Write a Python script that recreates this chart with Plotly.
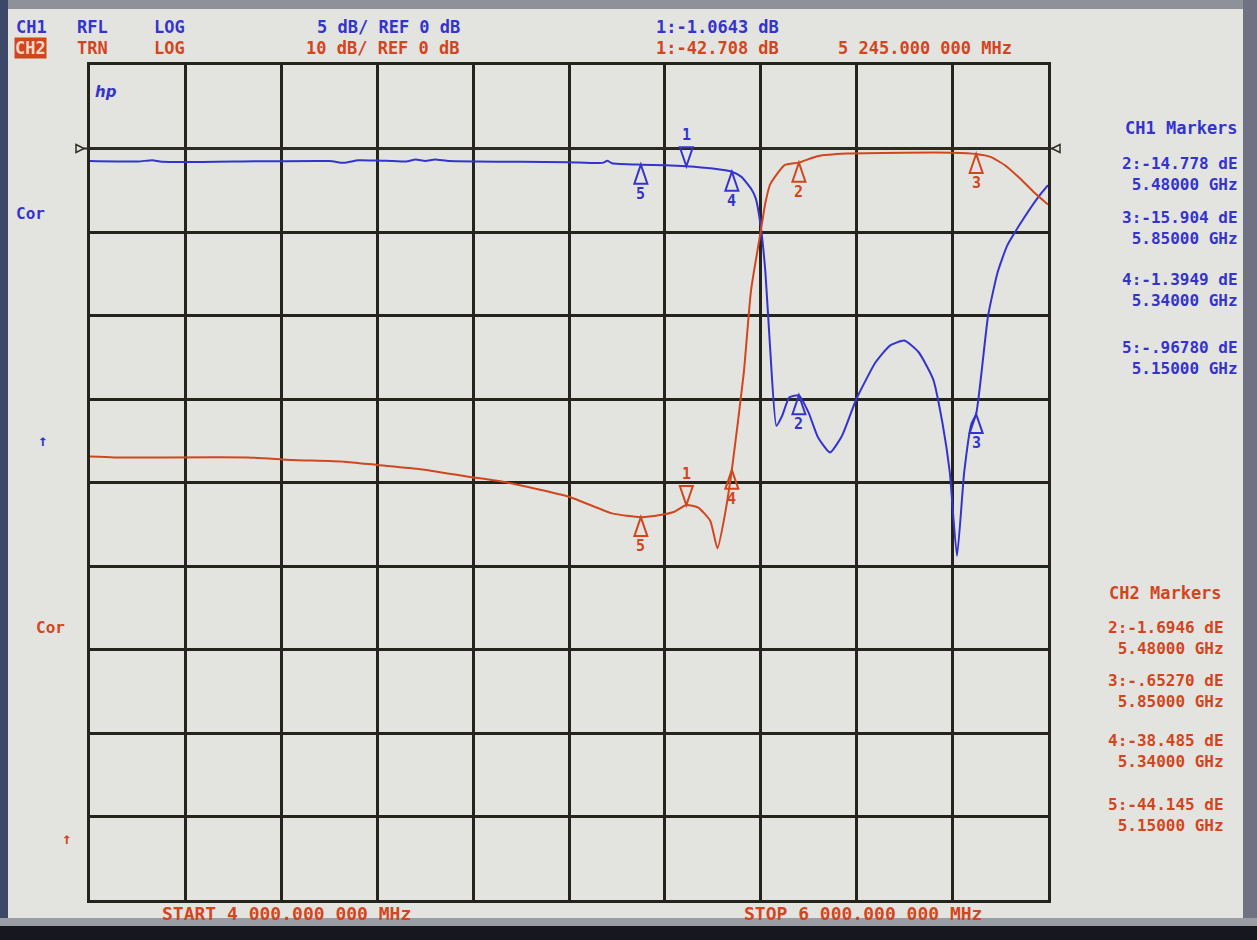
import plotly.graph_objects as go

freq_ch1 = [4.00, 4.10, 4.13, 4.15, 4.30, 4.50, 4.53, 4.56, 4.60, 4.66, 4.68, 4.70, 4.72, 4.75,
            4.90, 5.00, 5.07, 5.08, 5.09, 5.15, 5.20, 5.245, 5.30, 5.34, 5.36, 5.38, 5.39,
            5.40, 5.41, 5.42, 5.433, 5.445, 5.46, 5.48, 5.50, 5.52, 5.545, 5.57, 5.60, 5.64,
            5.67, 5.70, 5.73, 5.76, 5.78, 5.795, 5.81, 5.825, 5.84, 5.85, 5.875, 5.895,
            5.915, 5.94, 5.98, 6.00]
s11_db = [-0.75, -0.78, -0.70, -0.80, -0.78, -0.75, -0.86, -0.70, -0.72, -0.78, -0.66, -0.75, -0.66, -0.75,
          -0.80, -0.82, -0.86, -0.74, -0.88, -0.97, -1.00, -1.06, -1.20, -1.39, -1.70, -2.40, -3.00,
          -4.60, -7.40, -12.0, -16.6, -16.0, -14.9, -14.78, -15.8, -17.3, -18.2, -17.2, -15.0, -12.8,
          -11.8, -11.5, -12.2, -13.8, -16.5, -19.4, -24.4, -19.4, -16.5, -15.9, -10.0, -7.4,
          -5.8, -4.6, -2.9, -2.2]

freq_ch2 = [4.00, 4.05, 4.33, 4.42, 4.53, 4.60, 4.69, 4.79, 4.87, 5.00, 5.09, 5.15, 5.19, 5.22,
            5.245, 5.27, 5.295, 5.31, 5.325, 5.34, 5.365, 5.38, 5.40, 5.41, 5.42, 5.45, 5.48,
            5.52, 5.58, 5.70, 5.80, 5.85, 5.88, 5.91, 5.94, 5.97, 6.00]
s21_db = [-36.9, -37.0, -37.0, -37.3, -37.5, -37.9, -38.4, -39.3, -40.0, -41.7, -43.7, -44.15, -43.9, -43.5,
          -42.7, -43.0, -44.6, -47.9, -44.0, -38.5, -26.8, -17.0, -10.0, -6.5, -4.3, -2.0, -1.69,
          -0.9, -0.6, -0.5, -0.5, -0.65, -1.0, -2.0, -3.5, -5.2, -6.7]

marker_ids = ["1", "2", "3", "4", "5"]
marker_freq_ghz = [5.245, 5.48, 5.85, 5.34, 5.15]
ch1_marker_db = [-1.0643, -14.778, -15.904, -1.3949, -0.96780]
ch2_marker_db = [-42.708, -1.6946, -0.65270, -38.485, -44.145]

start_mhz = 4000.0
stop_mhz = 6000.0
ch1_scale = 5    # dB/div
ch2_scale = 10   # dB/div
ref_db = 0

# ---------------- layout geometry ----------------
W, H = 1257, 940
L, R, T, B = 90, 1048, 65, 900
PW, PH = R - L, B - T

BLUE = "#3434cc"
RED = "#d2461e"
GRID = "#24241c"
SCREEN = "#e3e4e0"
MONO = "DejaVu Sans Mono"


def px(x):
    return (x - L) / PW


def py(y):
    return 1 - (y - T) / PH


def fmt_db(v):
    s = f"{v:#.5g}"
    return s.replace("-0.", "-.")


def fmt_mhz(mhz):
    whole, frac = f"{mhz:.6f}".split(".")
    if len(whole) > 3:
        whole = whole[:-3] + " " + whole[-3:]
    return f"{whole}.{frac[:3]} {frac[3:]} MHz"


fig = go.Figure()

fig.add_trace(go.Scatter(x=freq_ch1, y=s11_db, mode="lines", yaxis="y",
                         line=dict(color=BLUE, width=2, shape="spline", smoothing=0.5),
                         showlegend=False, hoverinfo="skip"))
fig.add_trace(go.Scatter(x=freq_ch2, y=s21_db, mode="lines", yaxis="y2",
                         line=dict(color=RED, width=2, shape="spline", smoothing=0.5),
                         showlegend=False, hoverinfo="skip"))

shapes = []
annotations = []


# bezel of the photographed screen
def bez(x0, y0, x1, y1, color):
    shapes.append(dict(type="rect", xref="paper", yref="paper", x0=px(x0), x1=px(x1),
                       y0=py(y1), y1=py(y0), fillcolor=color, line=dict(width=0), layer="below"))


bez(0, 0, W, 9, "#8e909a")
bez(0, 0, 8, H, "#3d4868")
bez(1243, 0, W, H, "#6e7282")
bez(0, 918, W, 926, "#9a9ca6")
bez(0, 926, W, H, "#17171f")

# reference line with end arrows
ref_line_color = "#2e2e20"
shapes.append(dict(type="line", xref="paper", yref="y", x0=px(78), x1=px(1058), y0=ref_db, y1=ref_db,
                   line=dict(color=ref_line_color, width=2)))
shapes.append(dict(type="path", xref="paper", yref="y", xsizemode="pixel", ysizemode="pixel",
                   xanchor=px(76), yanchor=ref_db, path="M0,4 L8,0 L0,-4 Z",
                   line=dict(color=ref_line_color, width=1.5), fillcolor=SCREEN))
shapes.append(dict(type="path", xref="paper", yref="y", xsizemode="pixel", ysizemode="pixel",
                   xanchor=px(1060), yanchor=ref_db, path="M0,4 L-8,0 L0,-4 Z",
                   line=dict(color=ref_line_color, width=1.5), fillcolor=SCREEN))

# marker triangles + numbers
for ch_ref, vals, col in (("y", ch1_marker_db, BLUE), ("y2", ch2_marker_db, RED)):
    for mid, f, v in zip(marker_ids, marker_freq_ghz, vals):
        if mid == "1":
            path = "M0,0 L-6.5,19 L6.5,19 Z"
            shift = 31
        else:
            path = "M0,0 L-6.5,-19 L6.5,-19 Z"
            shift = -29
        shapes.append(dict(type="path", xref="x", yref=ch_ref, xsizemode="pixel", ysizemode="pixel",
                           xanchor=f, yanchor=v, path=path, line=dict(color=col, width=2)))
        annotations.append(dict(x=f, y=v, xref="x", yref=ch_ref, text=f"<b>{mid}</b>", showarrow=False,
                                yshift=shift, font=dict(family=MONO, size=15, color=col)))


def txt(x, y, s, color, size=17, anchor="left", family=MONO, bg=None):
    d = dict(x=px(x), y=py(y), xref="paper", yref="paper", text=s, showarrow=False,
             xanchor=anchor, yanchor="middle", align=anchor if anchor != "center" else "center",
             font=dict(family=family, size=size, color=color))
    if bg:
        d.update(bgcolor=bg, borderpad=0)
    annotations.append(d)


# header
Y1, Y2 = 27, 48
txt(14, Y1, "<b>CH1</b>", BLUE)
txt(75, Y1, "<b>RFL</b>", BLUE)
txt(152, Y1, "<b>LOG</b>", BLUE)
txt(462, Y1, f"<b>{ch1_scale} dB/ REF {ref_db} dB</b>", BLUE, anchor="right")
txt(654, Y1, f"<b>1:{fmt_db(ch1_marker_db[0])} dB</b>", BLUE)
txt(14, Y2, "<b>CH2</b>", "#f3d8c8", bg=RED)
txt(75, Y2, "<b>TRN</b>", RED)
txt(152, Y2, "<b>LOG</b>", RED)
txt(462, Y2, f"<b>{ch2_scale} dB/ REF {ref_db} dB</b>", RED, anchor="right")
txt(654, Y2, f"<b>1:{fmt_db(ch2_marker_db[0])} dB</b>", RED)
txt(836, Y2, f"<b>{fmt_mhz(marker_freq_ghz[0] * 1000)}</b>", RED)

# footer
txt(160, 913, f"<b>START {fmt_mhz(start_mhz)}</b>", RED, size=18)
txt(742, 913, f"<b>STOP {fmt_mhz(stop_mhz)}</b>", RED, size=18)

# left annotations
txt(14, 213, "<b>Cor</b>", BLUE, size=16)
txt(36, 440, "<b>↑</b>", BLUE, size=16)
txt(34, 627, "<b>Cor</b>", RED, size=16)
txt(60, 838, "<b>↑</b>", RED, size=16)
txt(93, 92, "<b><i>hp</i></b>", BLUE, size=15, family="DejaVu Sans")

# marker readout panels (two-line entries)
txt(1240, 128, "<b>CH1 Markers</b>", BLUE, size=17, anchor="right")
ch1_rows = [174, 228, 290, 358]
for yc, mid, f, v in zip(ch1_rows, marker_ids[1:], marker_freq_ghz[1:], ch1_marker_db[1:]):
    txt(1240, yc, f"<b>{mid}:{fmt_db(v)} dE<br>{f:.5f} GHz</b>", BLUE, size=16, anchor="right")

txt(1224, 593, "<b>CH2 Markers</b>", RED, size=17, anchor="right")
ch2_rows = [638, 691, 751, 815]
for yc, mid, f, v in zip(ch2_rows, marker_ids[1:], marker_freq_ghz[1:], ch2_marker_db[1:]):
    txt(1226, yc, f"<b>{mid}:{fmt_db(v)} dE<br>{f:.5f} GHz</b>", RED, size=16, anchor="right")

axis_common = dict(showticklabels=False, ticks="", zeroline=False, fixedrange=True)
fig.update_layout(
    width=W, height=H,
    margin=dict(l=L, r=W - R, t=T, b=H - B, pad=0),
    paper_bgcolor=SCREEN, plot_bgcolor=SCREEN,
    xaxis=dict(range=[start_mhz / 1000, stop_mhz / 1000], dtick=0.2, tick0=4.0,
               showgrid=True, gridcolor=GRID, gridwidth=2.5,
               showline=True, linecolor=GRID, linewidth=2.5, mirror=True, **axis_common),
    yaxis=dict(range=[ref_db - 9 * ch1_scale, ref_db + 1 * ch1_scale], dtick=ch1_scale, tick0=0,
               showgrid=True, gridcolor=GRID, gridwidth=2.5,
               showline=True, linecolor=GRID, linewidth=2.5, mirror=True, **axis_common),
    yaxis2=dict(range=[ref_db - 9 * ch2_scale, ref_db + 1 * ch2_scale], overlaying="y", side="right",
                showgrid=False, showline=False, **axis_common),
    shapes=shapes, annotations=annotations, showlegend=False,
)

fig.write_html("out.html", config={"displayModeBar": False},
               post_script="document.body.style.margin='0px';document.body.style.overflow='hidden';")
